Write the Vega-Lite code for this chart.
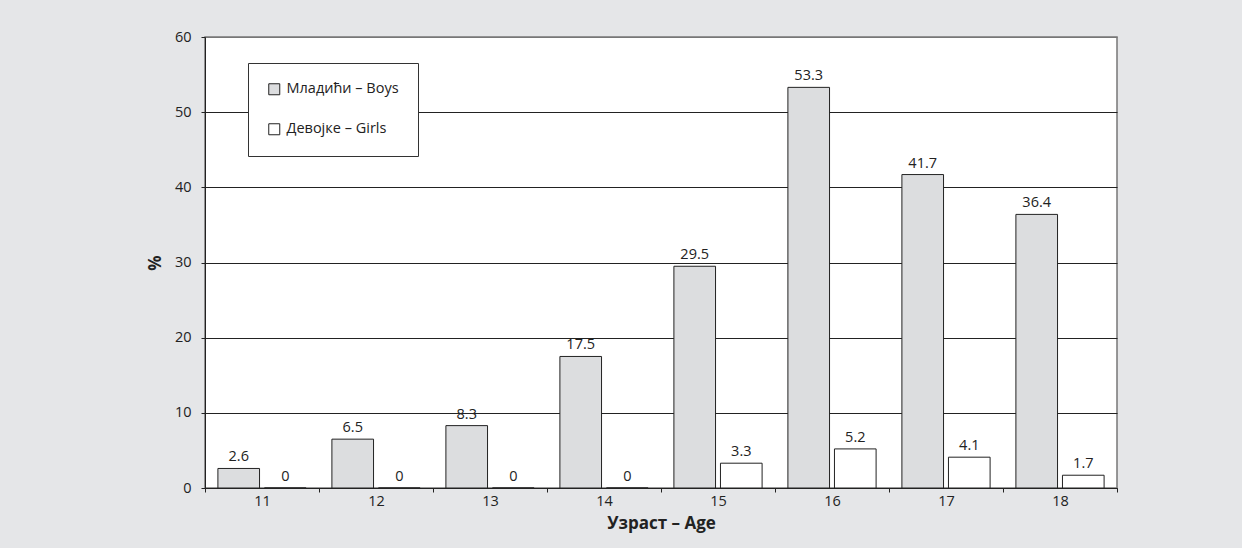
{
  "$schema": "https://vega.github.io/schema/vega-lite/v6.json",
  "width": 912,
  "height": 451,
  "autosize": {"type": "none"},
  "padding": {"left": 205, "top": 37, "right": 125, "bottom": 60},
  "background": "#e5e6e8",
  "data": {
    "values": [
      {"age": "11", "sex": "Младићи – Boys", "pct": 2.6},
      {"age": "11", "sex": "Девојке – Girls", "pct": 0},
      {"age": "12", "sex": "Младићи – Boys", "pct": 6.5},
      {"age": "12", "sex": "Девојке – Girls", "pct": 0},
      {"age": "13", "sex": "Младићи – Boys", "pct": 8.3},
      {"age": "13", "sex": "Девојке – Girls", "pct": 0},
      {"age": "14", "sex": "Младићи – Boys", "pct": 17.5},
      {"age": "14", "sex": "Девојке – Girls", "pct": 0},
      {"age": "15", "sex": "Младићи – Boys", "pct": 29.5},
      {"age": "15", "sex": "Девојке – Girls", "pct": 3.3},
      {"age": "16", "sex": "Младићи – Boys", "pct": 53.3},
      {"age": "16", "sex": "Девојке – Girls", "pct": 5.2},
      {"age": "17", "sex": "Младићи – Boys", "pct": 41.7},
      {"age": "17", "sex": "Девојке – Girls", "pct": 4.1},
      {"age": "18", "sex": "Младићи – Boys", "pct": 36.4},
      {"age": "18", "sex": "Девојке – Girls", "pct": 1.7}
    ]
  },
  "encoding": {
    "x": {
      "field": "age",
      "type": "ordinal",
      "title": "Узраст – Age",
      "scale": {"paddingInner": 0, "paddingOuter": 0},
      "axis": {
        "labelAngle": 0,
        "tickBand": "extent",
        "tickSize": 4,
        "labelPadding": 2,
        "titlePadding": 8,
        "grid": false
      }
    },
    "xOffset": {
      "field": "sex",
      "type": "nominal",
      "scale": {
        "domain": ["Младићи – Boys", "Девојке – Girls"],
        "paddingInner": 0.106,
        "paddingOuter": 0.277
      }
    },
    "y": {
      "field": "pct",
      "type": "quantitative",
      "title": "%",
      "scale": {"domain": [0, 60], "nice": false},
      "axis": {
        "values": [0, 10, 20, 30, 40, 50, 60],
        "tickSize": 4,
        "labelPadding": 10,
        "titlePadding": 10,
        "grid": true,
        "gridColor": {"condition": {"test": "datum.value == 60", "value": "#777777"}, "value": "#222222"}
      }
    }
  },
  "layer": [
    {
      "mark": {"type": "bar", "stroke": "#222222", "strokeWidth": 1},
      "encoding": {
        "color": {
          "field": "sex",
          "type": "nominal",
          "scale": {
            "domain": ["Младићи – Boys", "Девојке – Girls"],
            "range": ["#dcdddf", "#ffffff"]
          },
          "legend": {
            "title": null,
            "orient": "none",
            "legendX": 43,
            "legendY": 26,
            "fillColor": "#ffffff",
            "strokeColor": "#333333",
            "padding": 19,
            "rowPadding": 24,
            "symbolType": "square",
            "symbolSize": 121,
            "symbolStrokeColor": "#222222",
            "symbolStrokeWidth": 1,
            "labelFontSize": 14.5,
            "labelOffset": 5,
            "labelColor": "#222222"
          }
        }
      }
    },
    {
      "mark": {"type": "text", "baseline": "bottom", "dy": -4, "fontSize": 14.5, "color": "#222222"},
      "encoding": {"text": {"field": "pct", "type": "quantitative"}}
    }
  ],
  "config": {
    "font": "Open Sans",
    "view": {"stroke": "#777777", "strokeWidth": 1.5, "fill": "#ffffff"},
    "axis": {
      "labelFontSize": 14.5,
      "labelColor": "#222222",
      "titleFontSize": 17,
      "titleFontWeight": "bold",
      "titleColor": "#222222",
      "domainColor": "#222222",
      "tickColor": "#222222",
      "gridWidth": 1
    },
    "legend": {"labelFont": "Open Sans"}
  }
}
